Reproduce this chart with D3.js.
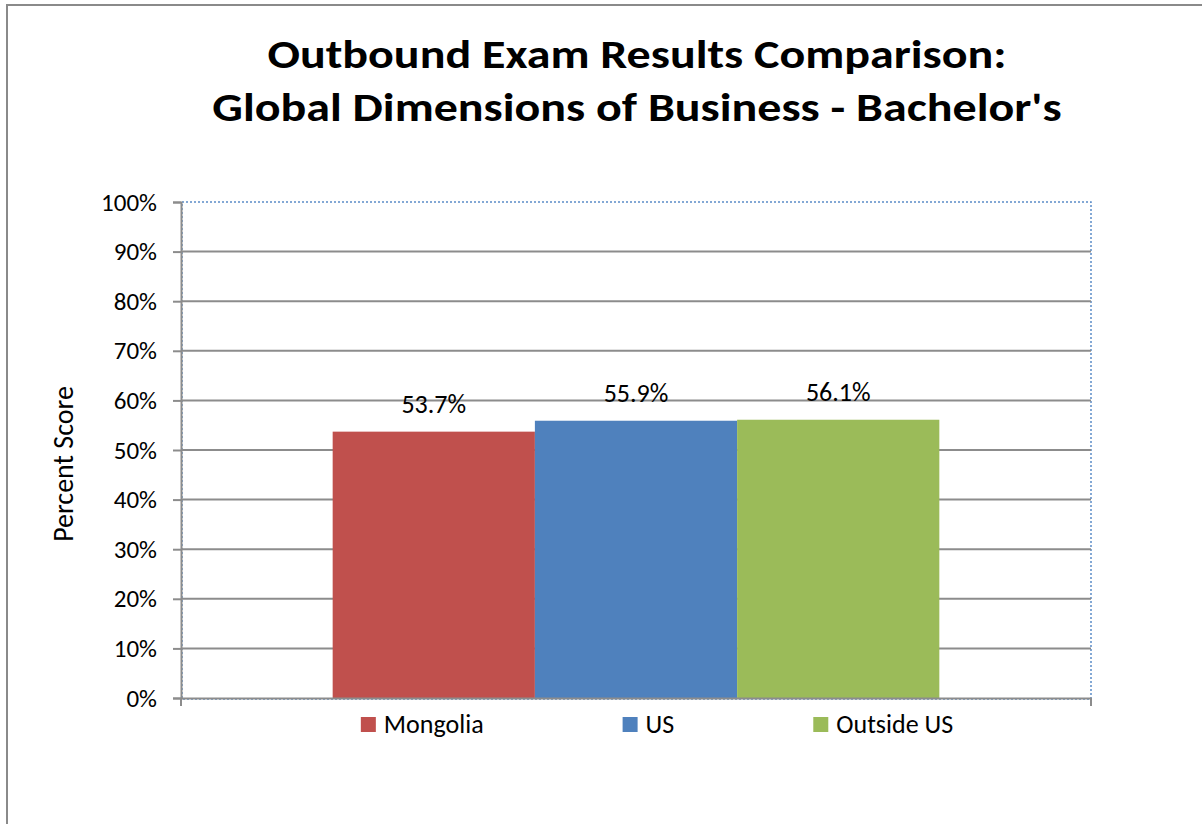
<!DOCTYPE html>
<html>
<head>
<meta charset="utf-8">
<script src="https://cdn.jsdelivr.net/npm/d3@7"></script>
<style>
  html, body { margin: 0; padding: 0; background: #fff; }
  svg { display: block; }
  text { font-family: Carlito, Calibri, Lato, "Open Sans", sans-serif; fill: #000; }
</style>
</head>
<body>
<svg id="chart" width="1202" height="824"></svg>
<script>
const titleLines = ["Outbound Exam Results Comparison:", "Global Dimensions of Business - Bachelor's"];
const yAxisTitle = "Percent Score";
const categories = [""];
const seriesNames = ["Mongolia", "US", "Outside US"];
const seriesValues = [0.537, 0.559, 0.561];
const seriesColors = ["#C0504D", "#4F81BD", "#9BBB59"];
const yTicks = [0, 0.1, 0.2, 0.3, 0.4, 0.5, 0.6, 0.7, 0.8, 0.9, 1.0];

const svg = d3.select("#chart");
const W = 1202, H = 824;
const plot = { left: 181, right: 1091, top: 202, bottom: 698 };
const gridColor = "#8c8c8c";

// outer chart border
svg.append("rect")
  .attr("x", 7).attr("y", 5).attr("width", W + 20).attr("height", H + 20)
  .attr("fill", "#fff").attr("stroke", "#8a8a8a").attr("stroke-width", 2);

// title
const title = svg.append("g").attr("transform", "translate(637,0) scale(1.2,1)");
title.selectAll("text").data(titleLines).join("text")
  .attr("text-anchor", "middle")
  .style("font-weight", "bold").style("font-size", "40px")
  .attr("x", 0).attr("y", (d, i) => 68 + i * 53).text(d => d);

// scales
const y = d3.scaleLinear().domain([0, 1]).range([plot.bottom, plot.top]);
const x0 = d3.scaleBand().domain(categories).range([plot.left, plot.right])
  .paddingInner(0).paddingOuter(0.25);
const x1 = d3.scaleBand().domain(seriesNames).range([0, x0.bandwidth()]).padding(0);

// plot area dotted outline
svg.append("rect")
  .attr("x", plot.left + 1).attr("y", plot.top).attr("width", plot.right - plot.left - 1)
  .attr("height", plot.bottom - plot.top + 1)
  .attr("fill", "none").attr("stroke", "#5b8cc8").attr("stroke-width", 1.5)
  .attr("stroke-dasharray", "2,2");

// gridlines
svg.append("g").selectAll("line").data(yTicks.filter(d => d > 0 && d < 1)).join("line")
  .attr("x1", plot.left).attr("x2", plot.right)
  .attr("y1", d => y(d)).attr("y2", d => y(d))
  .attr("stroke", gridColor).attr("stroke-width", 2);

// bars
const data = seriesNames.map((s, i) => ({ cat: categories[0], name: s, value: seriesValues[i], color: seriesColors[i] }));
svg.append("g").selectAll("rect").data(data).join("rect")
  .attr("x", d => x0(d.cat) + x1(d.name))
  .attr("width", x1.bandwidth())
  .attr("y", d => y(d.value))
  .attr("height", d => y(0) - y(d.value))
  .attr("fill", d => d.color);

// data labels
svg.append("g").selectAll("text").data(data).join("text")
  .attr("x", d => x0(d.cat) + x1(d.name) + x1.bandwidth() / 2)
  .attr("y", d => y(d.value) - 19)
  .attr("text-anchor", "middle")
  .style("font-size", "26px")
  .text(d => d3.format(".1%")(d.value));

// y axis
const yAxis = d3.axisLeft(y).tickValues(yTicks).tickFormat(d3.format(".0%"))
  .tickSize(8).tickPadding(16);
const gy = svg.append("g").attr("transform", `translate(${plot.left},0)`).call(yAxis);
gy.select(".domain").attr("stroke", gridColor).attr("stroke-width", 2);
gy.selectAll(".tick line").attr("stroke", gridColor).attr("stroke-width", 2);
gy.selectAll(".tick text").style("font-size", "25px")
  .style("font-family", "Carlito, Calibri, Lato, sans-serif").attr("fill", "#000");

// x axis
const xAxis = d3.axisBottom(x0).tickSize(0).tickFormat("");
const gx = svg.append("g").attr("transform", `translate(0,${plot.bottom})`).call(xAxis);
gx.select(".domain").attr("stroke", gridColor).attr("stroke-width", 2);
gx.selectAll(".edge").data(x0.range()).join("line").attr("class", "edge")
  .attr("x1", d => d).attr("x2", d => d).attr("y1", 0).attr("y2", 8)
  .attr("stroke", gridColor).attr("stroke-width", 2);

// y axis title
svg.append("text")
  .attr("transform", "translate(73,464) rotate(-90)")
  .attr("text-anchor", "middle")
  .style("font-size", "28px")
  .text(yAxisTitle);

// legend
const legend = svg.append("g");
const items = legend.selectAll("g").data(data).join("g");
items.append("rect").attr("width", 15).attr("height", 15).attr("y", -16)
  .attr("fill", d => d.color);
items.append("text").attr("x", 23).attr("y", 0)
  .style("font-size", "26px").text(d => d.name);
let cx = 0;
const gap = 139;
items.each(function () {
  d3.select(this).attr("data-w", this.getBBox().width);
});
items.attr("transform", function () {
  const w = +d3.select(this).attr("data-w");
  const t = `translate(${cx},0)`;
  cx += w + gap;
  return t;
});
const total = cx - gap;
legend.attr("transform", `translate(${657 - total / 2},733)`);
</script>
</body>
</html>
